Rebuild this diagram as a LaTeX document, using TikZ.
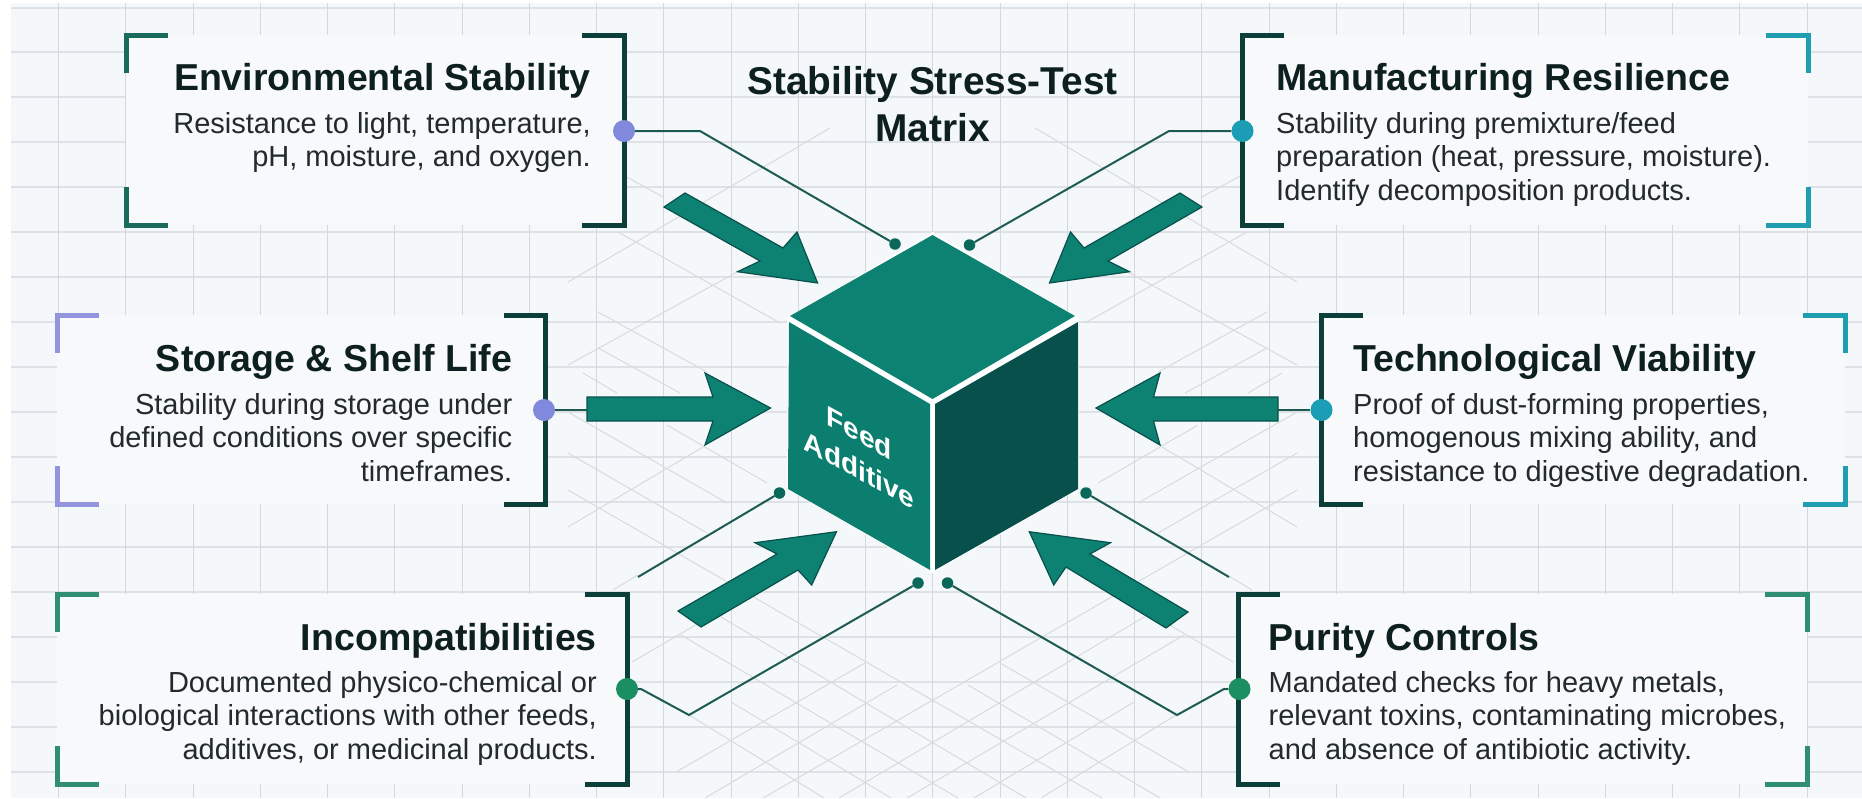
\documentclass[tikz,border=0pt]{standalone}
\usepackage{fontspec}
\setmainfont{Liberation Sans}
\definecolor{paperbg}{HTML}{F5F8FA}
\definecolor{panelbg}{HTML}{F7F9FB}
\definecolor{gridh}{HTML}{DEE2E6}
\definecolor{gridv}{HTML}{D4D8DC}
\definecolor{isocol}{HTML}{D8DBDE}
\definecolor{darkbracket}{HTML}{0C3E3A}
\definecolor{envcorner}{HTML}{1B6B5C}
\definecolor{lavcorner}{HTML}{9394DE}
\definecolor{tealcorner}{HTML}{1E9EB0}
\definecolor{greencorner}{HTML}{2F8F70}
\definecolor{lavdot}{HTML}{8189DC}
\definecolor{tealdot}{HTML}{1A9DB5}
\definecolor{greendot}{HTML}{1B8F62}
\definecolor{cubeteal}{HTML}{0D8272}
\definecolor{cubedark}{HTML}{07504C}
\definecolor{wirecol}{HTML}{1C5A53}
\definecolor{headcol}{HTML}{0D1F1F}
\definecolor{bodycol}{HTML}{222A2B}
\tikzset{
    headtext/.style={inner sep=0pt, text=headcol, font=\fontsize{37.5}{44}\selectfont\bfseries},
    titletext/.style={inner sep=0pt, text=headcol, font=\fontsize{38.8}{44}\selectfont\bfseries},
    bodytext/.style={inner sep=0pt, text=bodycol, font=\fontsize{29}{33.4}\selectfont},
    bracketline/.style={line width=5pt},
    bigdot/.style={shape=circle, inner sep=0pt, minimum size=22pt},
    pin/.style={shape=circle, inner sep=0pt, minimum size=11.5pt, fill=cubeteal!80!black},
    wire/.style={draw=wirecol, line width=2pt},
    bigarrow/.style={fill=cubeteal, draw=cubedark, line width=1.2pt, line join=miter},
    isoline/.style={draw=isocol, line width=1pt}
}
\begin{document}
\begin{tikzpicture}[x=1pt,y=-1pt]
    \useasboundingbox (0,0) rectangle (1862,798);
    \fill[white] (0,0) rectangle (1862,798);
    \fill[paperbg] (11,3) rectangle (1862,798);
    \foreach \k in {0,...,17}
        \draw[gridh, line width=2pt] (11,{7.5+44.95*\k}) -- (1862,{7.5+44.95*\k});
    \foreach \k in {0,...,26}
        \draw[gridv, line width=1pt] ({58.5+67.25*\k},3) -- ({58.5+67.25*\k},798);
    \foreach \xa/\ya/\xb/\yb in {625/176/663/197, 618/232/780/323, 598/312/707/372, 598/348/680/393,
        583/373/617/393, 667/425/767/483, 568/412/727/503, 568/453/707/533, 568/490/1102/798,
        721/617/1026/798, 681/635/958/798, 731/702/891/798, 689/715/824/798, 1000/663/1189/772,
        968/685/1160/798, 568/282/830/128, 568/365/737/272, 568/527/703/447, 613/590/638/575,
        632/662/699/623} {
        \draw[isoline] (\xa,\ya) -- (\xb,\yb);
        \draw[isoline] (1865-\xa,\ya) -- (1865-\xb,\yb);
    }

    \foreach \xa/\xb/\ya/\yb in {126/624/35/225, 57/545.5/315/504, 57/627/594/784,
        1242/1808/35/225, 1321/1845/315/504, 1238/1807/594/784}
        \fill[panelbg] (\xa,\ya) rectangle (\xb,\yb);
    \foreach \bx/\bd/\bt/\bb in {624/-42/35/225, 545.5/-42/315/504, 627/-42/594/784,
        1242/42/35/225, 1321/42/315/504, 1238/42/594/784}
        \draw[bracketline, darkbracket] (\bx+\bd,\bt) -- (\bx,\bt) -- (\bx,\bb) -- (\bx+\bd,\bb);
    \foreach \bx/\bd/\bt/\bb/\bc in {126/42/35/225/envcorner, 57/42/315/504/lavcorner, 57/42/594/784/greencorner,
        1808/-42/35/225/tealcorner, 1845/-42/315/504/tealcorner, 1807/-42/594/784/greencorner} {
        \draw[bracketline, \bc] (\bx+\bd,\bt) -- (\bx,\bt) -- (\bx,\bt+38);
        \draw[bracketline, \bc] (\bx,\bb-38) -- (\bx,\bb) -- (\bx+\bd,\bb);
    }

    \node[titletext, anchor=base] (title1) at (932.5,94) {Stability Stress-Test};
    \node[titletext, anchor=base] (title2) at (932.5,141) {Matrix};

    \node[headtext, anchor=base east] (envhead) at (591,90) {Environmental Stability};
    \node[bodytext, anchor=north east, align=right] (envbody) at (591,112) {Resistance to light, temperature,\\pH, moisture, and oxygen.};
    \node[headtext, anchor=base east] (storehead) at (512.5,371) {Storage \& Shelf Life};
    \node[bodytext, anchor=north east, align=right] (storebody) at (512.5,393) {Stability during storage under\\defined conditions over specific\\timeframes.};
    \node[headtext, anchor=base east] (incohead) at (597,650) {Incompatibilities};
    \node[bodytext, anchor=north east, align=right] (incobody) at (597,671) {Documented physico-chemical or\\biological interactions with other feeds,\\additives, or medicinal products.};
    \node[headtext, anchor=base west] (manuhead) at (1276,90) {Manufacturing Resilience};
    \node[bodytext, anchor=north west, align=left] (manubody) at (1276,112) {Stability during premixture/feed\\preparation (heat, pressure, moisture).\\Identify decomposition products.};
    \node[headtext, anchor=base west] (techhead) at (1353,371) {Technological Viability};
    \node[bodytext, anchor=north west, align=left] (techbody) at (1353,393) {Proof of dust-forming properties,\\homogenous mixing ability, and\\resistance to digestive degradation.};
    \node[headtext, anchor=base west] (purehead) at (1268.5,650) {Purity Controls};
    \node[bodytext, anchor=north west, align=left] (purebody) at (1268.5,671) {Mandated checks for heavy metals,\\relevant toxins, contaminating microbes,\\and absence of antibiotic activity.};

    \draw[bigarrow] (685,193) -- (783,248) -- (797,232) -- (817.6,283) -- (737.6,271.7) -- (760,261) -- (664,207) -- cycle;
    \draw[bigarrow] (1180,193) -- (1084,248) -- (1070.5,232) -- (1049.5,283) -- (1129.5,271.7) -- (1108,261) -- (1202,207) -- cycle;
    \draw[bigarrow] (587,397) -- (713,397) -- (705,373) -- (770.5,408) -- (705,445) -- (713,421) -- (587,421) -- cycle;
    \draw[bigarrow] (1278,397) -- (1153.5,397) -- (1160,373) -- (1096,408) -- (1160,445) -- (1153.5,421) -- (1278,421) -- cycle;
    \draw[bigarrow] (678,611) -- (777,554) -- (755,542.7) -- (836.5,531.7) -- (811.7,585) -- (798,570) -- (701,627) -- cycle;
    \draw[bigarrow] (1188,612) -- (1090,554) -- (1110.5,542.7) -- (1029.3,531.7) -- (1053.7,585) -- (1066,567) -- (1166,628) -- cycle;

    \fill[white] (932.5,232) -- (1079,318) -- (1079,489) -- (932.5,573) -- (787,489) -- (787,318) -- cycle;
    \fill[cubeteal] (932.5,235) -- (1075,316) -- (932.5,399) -- (790,316) -- cycle;
    \fill[cubeteal!97!black] (789,322) -- (930,404) -- (930,570) -- (788,489) -- cycle;
    \fill[cubedark] (935,404) -- (1078,322) -- (1078,489) -- (935,570) -- cycle;
    \begin{scope}[shift={(859,451)}, yslant=-0.55]
        \node[transform shape, text=white, align=center, inner sep=0pt, font=\fontsize{28}{37}\selectfont\bfseries] (cubelabel) at (0,0) {Feed\\Additive};
    \end{scope}

    \node[bigdot, fill=lavdot] (envdot) at (624,131) {};
    \node[bigdot, fill=lavdot] (storedot) at (544,410) {};
    \node[bigdot, fill=greendot] (incodot) at (627,689) {};
    \node[bigdot, fill=tealdot] (manudot) at (1242.5,131) {};
    \node[bigdot, fill=tealdot] (techdot) at (1321.5,410) {};
    \node[bigdot, fill=greendot] (puredot) at (1239.5,689) {};
    \node[pin] (envpin) at (895,244) {};
    \node[pin] (manupin) at (969.5,245) {};
    \node[pin] (incopin) at (918,583) {};
    \node[pin] (purepin) at (947.5,583) {};
    \node[pin] (leftpin) at (779.5,493) {};
    \node[pin] (rightpin) at (1086,493) {};
    \coordinate (envbend) at (700,131);
    \coordinate (manubend) at (1169,131);
    \coordinate (incostep) at (641,689);
    \coordinate (incobend) at (689,715);
    \coordinate (purestep) at (1224,689);
    \coordinate (purebend) at (1177,715);
    \coordinate (storetail) at (587,410);
    \coordinate (techtail) at (1278,410);
    \coordinate (leftend) at (638,577);
    \coordinate (rightend) at (1229,577);

    \draw[wire] (envdot) -- (envbend) -- (envpin);
    \draw[wire] (manudot) -- (manubend) -- (manupin);
    \draw[wire] (incodot) -- (incostep) -- (incobend) -- (incopin);
    \draw[wire] (puredot) -- (purestep) -- (purebend) -- (purepin);
    \draw[wire] (storedot) -- (storetail);
    \draw[wire] (techdot) -- (techtail);
    \draw[wire] (leftend) -- (leftpin);
    \draw[wire] (rightend) -- (rightpin);
\end{tikzpicture}
\end{document}
